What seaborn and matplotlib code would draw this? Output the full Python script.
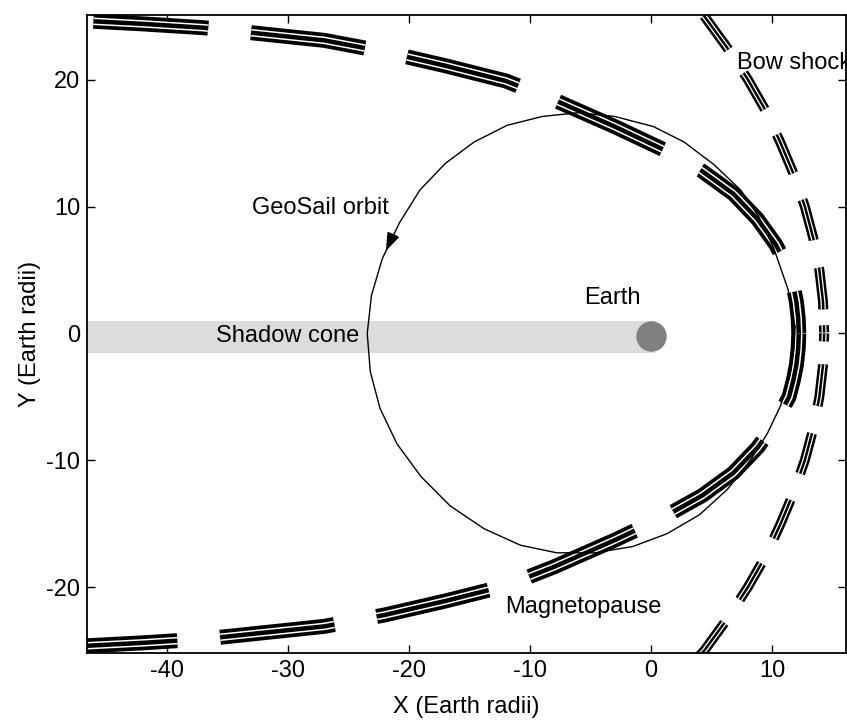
import numpy as np
import matplotlib
matplotlib.use("Agg")
import matplotlib.pyplot as plt
import seaborn as sns

# Magnetopause, upper branch (nose first); lower branch mirrored
mp_x = [12.2, 12.15, 12.0, 11.75, 11.4, 10.3, 8.8, 6.8, 4.2, 1.0, -3.0, -8.0, -12.0,
        -17.0, -22.0, -27.0, -32.0, -37.0, -42.0, -48.0]
mp_y = [0.0, 1.2, 2.5, 3.7, 5.0, 7.0, 9.0, 11.0, 12.8, 14.5, 16.3, 18.4, 19.9,
        21.1, 22.2, 23.1, 23.6, 24.1, 24.4, 24.7]

# Bow shock, upper branch (nose first)
bs_x = [14.3, 14.2, 13.9, 13.4, 12.7, 11.8, 10.7, 9.5, 8.0, 6.3, 4.4, 2.5]
bs_y = [0.0, 2.5, 5.0, 7.5, 10.0, 12.5, 15.0, 17.5, 20.0, 22.5, 25.0, 27.0]

# GeoSail orbit (counter-clockwise)
orbit_x = [11.9, 11.3, 10.1, 8.9, 7.4, 5.2, 2.7, 0.2, -3.0, -6.0, -9.0, -11.9, -14.6,
           -17.0, -19.1, -20.8, -22.2, -23.1, -23.45, -23.2, -22.4, -21.0, -19.0, -16.6,
           -13.8, -10.8, -7.8, -4.6, -1.5, 1.3, 4.0, 6.3, 8.2, 9.6, 10.7, 11.5, 11.8, 11.9]
orbit_y = [0.5, 3.5, 6.8, 9.2, 11.3, 13.3, 15.1, 16.3, 17.1, 17.4, 17.1, 16.4, 15.1,
           13.4, 11.3, 8.7, 5.9, 3.0, 0.0, -3.0, -5.9, -8.7, -11.3, -13.6,
           -15.4, -16.7, -17.3, -17.3, -16.8, -15.8, -14.3, -12.3, -10.0, -7.9, -5.7, -3.2, -1.2, 0.5]

# Shadow cone and Earth
shadow_x = [-50.0, 0.3]
shadow_y = [-1.55, 1.0]
earth_xy = (0.0, -0.2)

sns.set_theme(style="white")
plt.rcParams["font.family"] = ["Liberation Sans", "DejaVu Sans"]
plt.rcParams["lines.scale_dashes"] = False
plt.rcParams["axes.unicode_minus"] = False
plt.rcParams["text.color"] = "black"
plt.rcParams["axes.labelcolor"] = "black"

PT = 0.72  # points per pixel at dpi 100

fig = plt.figure(figsize=(8.47, 7.2), dpi=100)
ax = fig.add_axes([87 / 847, 1 - 653 / 720, 759 / 847, 638 / 720])

# shadow cone + earth
ax.fill_between(shadow_x, shadow_y[0], shadow_y[1], color="#dcdcdc", lw=0, zorder=1)
ax.scatter([earth_xy[0]], [earth_xy[1]], s=480, color="#808080", lw=0, zorder=2)


def striped(xs, ys, widths, on, off, offset):
    ls = (offset * PT, (on * PT, off * PT))
    for w, c in zip(widths, ["black", "white", "black"]):
        sns.lineplot(x=xs, y=ys, sort=False, estimator=None, ax=ax, color=c,
                     lw=w * PT, linestyle=ls, dash_capstyle="butt", zorder=3)


mp_lower = [-v for v in mp_y]
bs_lower = [-v for v in bs_y]

# magnetopause: thick triple band, long dashes
striped(mp_x, mp_y, [15, 7.5, 4.5], 115, 43, 73)
striped(mp_x, mp_lower, [15, 7.5, 4.5], 115, 43, 42)

# bow shock: thinner band, shorter dashes
striped(bs_x, bs_y, [10, 5, 2.5], 42, 28, 46)
striped(bs_x, bs_lower, [10, 5, 2.5], 42, 28, 39)
# tiny dashes right at the bow shock nose
striped(bs_x[:2], bs_y[:2], [10, 5, 2.5], 7, 500, 506)
striped(bs_x[:2], bs_lower[:2], [10, 5, 2.5], 7, 500, 506)

# orbit
sns.lineplot(x=orbit_x, y=orbit_y, sort=False, estimator=None, ax=ax,
             color="black", lw=1.0, zorder=4)
ax.annotate("", xy=(-22.0, 6.3), xytext=(-21.2, 8.0),
            arrowprops=dict(arrowstyle="-|>,head_length=0.7,head_width=0.25",
                            color="black", lw=1.0, mutation_scale=16), zorder=5)

# labels
fs = 17
ax.text(-30.0, -0.2, "Shadow cone", fontsize=fs, ha="center", va="center", zorder=6)
ax.text(-3.2, 2.8, "Earth", fontsize=fs, ha="center", va="center", zorder=6)
ax.text(-27.3, 9.9, "GeoSail orbit", fontsize=fs, ha="center", va="center", zorder=6)
ax.text(-5.6, -21.6, "Magnetopause", fontsize=fs, ha="center", va="center", zorder=6)
ax.text(7.1, 21.3, "Bow shock", fontsize=fs, ha="left", va="center", zorder=6, clip_on=False)

ax.set_xlim(-46.6, 16.1)
ax.set_ylim(-25.2, 25.1)
ax.set_xticks([-40, -30, -20, -10, 0, 10])
ax.set_yticks([-20, -10, 0, 10, 20])
ax.tick_params(direction="in", length=5.5, width=1, labelsize=fs, pad=5,
               top=True, right=True, bottom=True, left=True, colors="black")
for s in ax.spines.values():
    s.set_color("black")
    s.set_linewidth(1.3)
    s.set_zorder(7)
ax.set_xlabel("X (Earth radii)", fontsize=fs, labelpad=10)
ax.set_ylabel("Y (Earth radii)", fontsize=fs, labelpad=4)

fig.savefig("out.png", dpi=100)
